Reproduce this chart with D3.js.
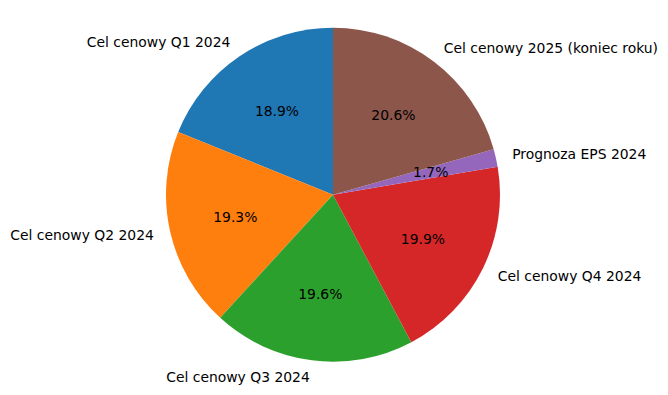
<!DOCTYPE html>
<html>
<head>
<meta charset="utf-8">
<script src="https://cdn.jsdelivr.net/npm/d3@7"></script>
<style>
  body { margin: 0; background: #fff; }
  text { font-family: "DejaVu Sans", sans-serif; font-size: 13.9px; fill: #000; }
</style>
</head>
<body>
<div id="chart"></div>
<script>
// ===== Données =====
const labels = [
  "Cel cenowy Q1 2024",
  "Cel cenowy Q2 2024",
  "Cel cenowy Q3 2024",
  "Cel cenowy Q4 2024",
  "Prognoza EPS 2024",
  "Cel cenowy 2025 (koniec roku)"
];
const values = [220, 225, 228, 232, 20, 240];
const colors = ["#1f77b4", "#ff7f0e", "#2ca02c", "#d62728", "#9467bd", "#8c564b"];

const W = 668, H = 395;
const cx = 333, cy = 194.7, r = 167;

const svg = d3.select("#chart").append("svg")
  .attr("width", W).attr("height", H);
const g = svg.append("g").attr("transform", `translate(${cx},${cy})`);

// sens anti-horaire depuis le haut (comme matplotlib startangle=90)
const pie = d3.pie().sort(null).startAngle(0).endAngle(-2 * Math.PI);
const arcs = pie(values);
const total = d3.sum(values);
const arc = d3.arc().innerRadius(0).outerRadius(r);

g.selectAll("path")
  .data(arcs)
  .enter()
  .append("path")
  .attr("d", arc)
  .attr("fill", (d, i) => colors[i]);

const mid = (d) => (d.startAngle + d.endAngle) / 2;

// étiquettes extérieures
g.selectAll("text.lbl")
  .data(arcs)
  .enter()
  .append("text")
  .attr("class", "lbl")
  .attr("x", (d) => Math.sin(mid(d)) * r * 1.1)
  .attr("y", (d) => -Math.cos(mid(d)) * r * 1.1)
  .attr("dy", "0.35em")
  .attr("text-anchor", (d) => (Math.sin(mid(d)) > 0 ? "start" : "end"))
  .text((d, i) => labels[i]);

// pourcentages
g.selectAll("text.pct")
  .data(arcs)
  .enter()
  .append("text")
  .attr("class", "pct")
  .attr("x", (d) => Math.sin(mid(d)) * r * 0.6)
  .attr("y", (d) => -Math.cos(mid(d)) * r * 0.6)
  .attr("dy", "0.35em")
  .attr("text-anchor", "middle")
  .text((d) => ((d.value / total) * 100).toFixed(1) + "%");
</script>
</body>
</html>
